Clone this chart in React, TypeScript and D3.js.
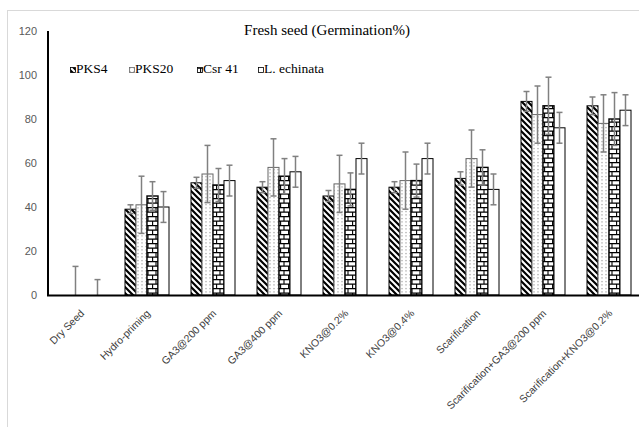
import React from 'react';
import * as d3 from 'd3';

const categories = [
  'Dry Seed',
  'Hydro-priming',
  'GA3@200 ppm',
  'GA3@400 ppm',
  'KNO3@0.2%',
  'KNO3@0.4%',
  'Scarification',
  'Scarification+GA3@200 ppm',
  'Scarification+KNO3@0.2%',
];
const seriesNames = ['PKS4', 'PKS20', 'Csr 41', 'L. echinata'];

const pks4 = [0, 39, 51, 49, 45, 49, 53, 88, 86];
const pks4Err = [0, 2, 2.5, 2.5, 2.5, 2.5, 3, 4.5, 4];
const pks20 = [0, 41, 55, 58, 50.5, 52, 62, 82, 78];
const pks20Err = [13, 13, 13, 13, 13, 13, 13, 13, 13];
const csr41 = [0, 45, 50, 54, 48, 52, 58, 86, 80];
const csr41Err = [0, 6.5, 7.5, 8, 7.5, 7.5, 8, 13, 12];
const lEchinata = [0, 40, 52, 56, 62, 62, 48, 76, 84];
const lEchinataErr = [7, 7, 7, 7, 7, 7, 7, 7, 7];

const yTicks = [0, 20, 40, 60, 80, 100, 120];

const values = [pks4, pks20, csr41, lEchinata];
const errors = [pks4Err, pks20Err, csr41Err, lEchinataErr];

// fill + outline per series (patterns are defined in <defs>)
const fills = ['url(#stripes)', 'url(#dots)', 'url(#bricks)', '#fff'];
const strokes = ['#000', '#666', '#000', '#000'];
const strokeWidths = [1, 1, 1.4, 1];

const W = 639;
const H = 427;
const margin = { left: 48, top: 31, bottom: 295 };

export default function App() {
  const x0 = d3.scaleBand<string>()
    .domain(categories)
    .range([margin.left, margin.left + 66 * categories.length]);

  const x1 = d3.scaleBand<string>()
    .domain(seriesNames)
    .range([0, x0.bandwidth()])
    .paddingOuter(1);

  const y = d3.scaleLinear().domain([0, 120]).range([margin.bottom, margin.top]);

  const errColor = '#808080';
  const capHalf = 3;

  return (
    <svg width={W} height={H} style={{ position: 'absolute', left: 0, top: 0, background: '#fff' }}>
      <defs>
        <pattern id="stripes" patternUnits="userSpaceOnUse" width={6} height={6}>
          <rect width={6} height={6} fill="#fff" />
          <path d="M-3,3 L3,9 M0,0 L6,6 M3,-3 L9,3" stroke="#000" strokeWidth={2.2} />
        </pattern>
        <pattern id="dots" patternUnits="userSpaceOnUse" width={4} height={3.5}>
          <rect width={4} height={3.5} fill="#fff" />
          <rect x={1.5} y={1} width={1} height={1} fill="#666" />
        </pattern>
        <pattern id="bricks" patternUnits="userSpaceOnUse" width={8} height={9}>
          <rect width={8} height={9} fill="#fff" />
          <path d="M0,0.6 H8 M0,5.1 H8 M4,0 V4.5 M0.6,4.5 V9" stroke="#000" strokeWidth={1.1} />
        </pattern>
      </defs>

      {/* outer chart frame */}
      <rect x={7.5} y={10.5} width={W} height={H} fill="none" stroke="#d9d9d9" />

      <text x={327} y={35} textAnchor="middle" fontFamily="'Liberation Serif', serif" fontSize={15} fill="#000">
        Fresh seed (Germination%)
      </text>

      {/* legend */}
      {seriesNames.map((s, i) => {
        const lx = [70, 129, 197, 258][i];
        return (
          <g key={s}>
            <rect x={lx + 0.5} y={67.5} width={5} height={5} fill={fills[i]} stroke={strokes[i]} strokeWidth={0.8} />
            <text x={lx + 6} y={73} fontFamily="'Liberation Serif', serif" fontSize={13.5} fill="#000">{s}</text>
          </g>
        );
      })}

      {/* y tick labels */}
      {yTicks.map(t => (
        <text key={t} x={37} y={y(t)} dy="0.35em" textAnchor="end"
          fontFamily="'Liberation Sans', Arial, sans-serif" fontSize={11} fill="#595959">
          {t}
        </text>
      ))}

      {/* bars */}
      {categories.map((c, ci) => (
        <g key={c}>
          {seriesNames.map((s, si) => {
            const v = values[si][ci];
            if (v <= 0) return null;
            return (
              <rect key={s}
                x={x0(c)! + x1(s)!}
                y={y(v)}
                width={x1.bandwidth()}
                height={y(0) - y(v)}
                fill={fills[si]}
                stroke={strokes[si]}
                strokeWidth={strokeWidths[si]} />
            );
          })}
        </g>
      ))}

      {/* error bars */}
      {categories.map((c, ci) => (
        <g key={c} stroke={errColor} strokeWidth={1.5}>
          {seriesNames.map((s, si) => {
            const v = values[si][ci];
            const e = errors[si][ci];
            if (!e) return null;
            const cx = x0(c)! + x1(s)! + x1.bandwidth() / 2;
            const lo = Math.max(0, v - e);
            return (
              <g key={s}>
                <line x1={cx} x2={cx} y1={y(lo)} y2={y(v + e)} />
                <line x1={cx - capHalf} x2={cx + capHalf} y1={y(v + e)} y2={y(v + e)} />
                {v - e > 0 && <line x1={cx - capHalf} x2={cx + capHalf} y1={y(lo)} y2={y(lo)} />}
              </g>
            );
          })}
        </g>
      ))}

      {/* axes */}
      <line x1={margin.left} x2={margin.left} y1={margin.top} y2={margin.bottom + 1} stroke="#000" strokeWidth={2} />
      <line x1={margin.left - 1} x2={W} y1={margin.bottom + 0.5} y2={margin.bottom + 0.5} stroke="#000" strokeWidth={2} />

      {/* x tick labels */}
      {categories.map(c => {
        const cx = x0(c)! + x0.bandwidth() / 2;
        return (
          <text key={c} transform={`translate(${cx + 4},${314}) rotate(-45)`} textAnchor="end"
            fontFamily="'Liberation Sans', Arial, sans-serif" fontSize={10.5} fill="#404040">
            {c}
          </text>
        );
      })}
    </svg>
  );
}
